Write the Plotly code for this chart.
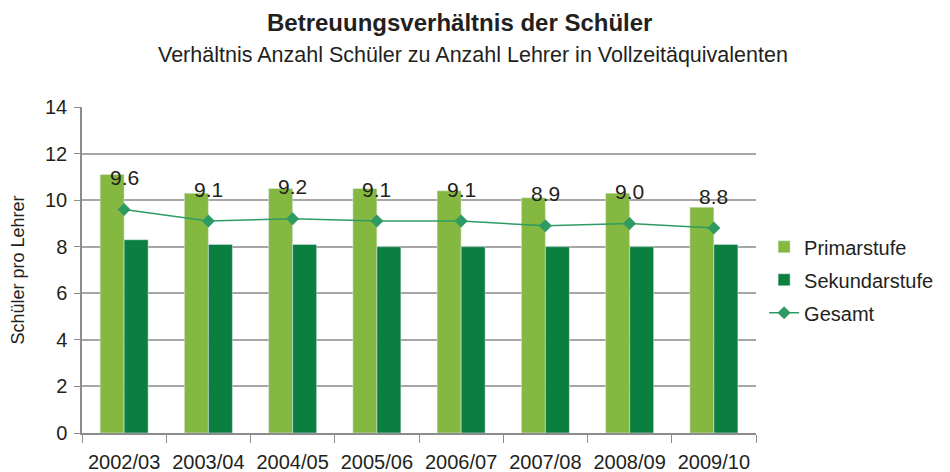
import plotly.graph_objects as go

years = ["2002/03", "2003/04", "2004/05", "2005/06", "2006/07", "2007/08", "2008/09", "2009/10"]
primarstufe = [11.1, 10.3, 10.5, 10.5, 10.4, 10.1, 10.3, 9.7]
sekundarstufe = [8.3, 8.1, 8.1, 8.0, 8.0, 8.0, 8.0, 8.1]
gesamt = [9.6, 9.1, 9.2, 9.1, 9.1, 8.9, 9.0, 8.8]
y_ticks = [0, 2, 4, 6, 8, 10, 12, 14]

FONT = "Liberation Sans, Arial, sans-serif"
TXT = "#231F20"

fig = go.Figure()
fig.add_trace(go.Bar(name="Primarstufe", x=years, y=primarstufe, marker_color="#84B840",
                     legendgroup="a"))
fig.add_trace(go.Bar(name="Sekundarstufe", x=years, y=sekundarstufe, marker_color="#0A7F40",
                     legendgroup="b"))
fig.add_trace(go.Scatter(name="Gesamt", x=years, y=gesamt, mode="lines+markers",
                         line=dict(color="#2E9B64", width=1.5), legendgroup="c",
                         marker=dict(symbol="diamond", size=10, color="#2E9B64")))

for yr, v in zip(years, gesamt):
    fig.add_annotation(x=yr, y=v, text=f"{v:.1f}", showarrow=False, yshift=32,
                       font=dict(size=21, color=TXT, family=FONT))

fig.add_annotation(text="<b>Betreuungsverhältnis der Schüler</b>", xref="paper", yref="paper",
                   x=0.56, y=1, yshift=85, xanchor="center", yanchor="middle", showarrow=False,
                   font=dict(size=24, color=TXT, family=FONT))
fig.add_annotation(text="Verhältnis Anzahl Schüler zu Anzahl Lehrer in Vollzeitäquivalenten",
                   xref="paper", yref="paper",
                   x=0.58, y=1, yshift=52, xanchor="center", yanchor="middle", showarrow=False,
                   font=dict(size=21.5, color=TXT, family=FONT))

fig.update_layout(
    width=942, height=464,
    margin=dict(l=74, r=194, t=99, b=39),
    paper_bgcolor="white", plot_bgcolor="white",
    font=dict(family=FONT, color=TXT, size=20),
    barmode="group", bargap=0.43, bargroupgap=0,
    legend=dict(x=1.012, y=0.47, xanchor="left", yanchor="middle",
                font=dict(size=20, color=TXT), tracegroupgap=4, itemwidth=30),
    showlegend=True,
)

fig.update_xaxes(showline=True, linecolor="#8c8c8c", linewidth=1.5, ticks="outside",
                 tickson="boundaries", ticklen=8, tickcolor="#8c8c8c", automargin=False,
                 ticklabelstandoff=10,
                 tickfont=dict(size=20, color=TXT), showgrid=False)
fig.update_yaxes(range=[0, 14], tickvals=y_ticks, showline=True, linecolor="#8c8c8c", linewidth=1.5,
                 ticks="outside", ticklen=6, tickcolor="#8c8c8c", automargin=False,
                 ticklabelstandoff=3,
                 gridcolor="#a6a6a6", gridwidth=1.5,
                 tickfont=dict(size=20, color=TXT),
                 title=dict(text="Schüler pro Lehrer", font=dict(size=18, color=TXT), standoff=18))

fig.write_html("out.html")
